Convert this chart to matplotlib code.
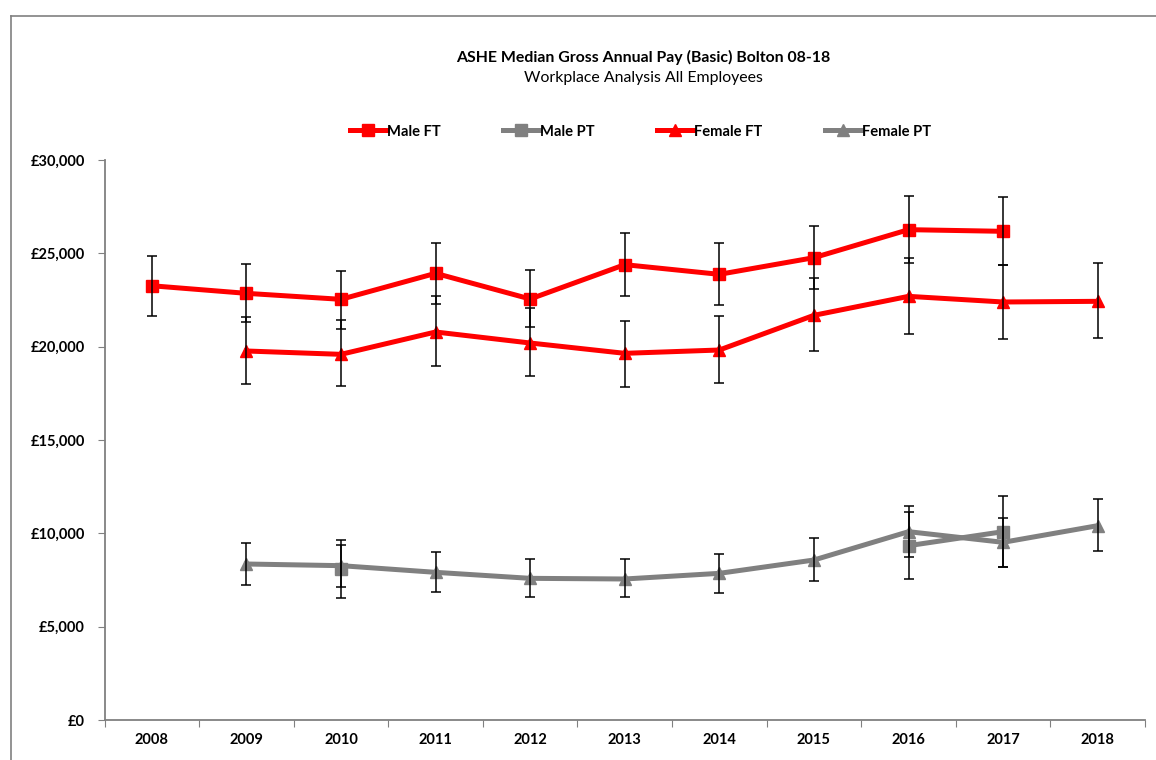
import numpy as np
import matplotlib
matplotlib.use("Agg")
import matplotlib.pyplot as plt
from matplotlib.lines import Line2D
from matplotlib.ticker import FuncFormatter, FixedLocator

plt.rcParams["font.family"] = ["Lato", "DejaVu Sans"]

nan = np.nan
years = ["2008", "2009", "2010", "2011", "2012", "2013", "2014", "2015", "2016", "2017", "2018"]

# median, lower and upper confidence bound for each series
male_ft = [23263, 22857, 22536, 23929, 22554, 24393, 23875, 24768, 26268, 26179, nan]
male_ft_lo = [21643, 21304, 20964, 22268, 21054, 22714, 22214, 23089, 24464, 24375, nan]
male_ft_hi = [24873, 24446, 24071, 25571, 24107, 26089, 25536, 26482, 28071, 27999, nan]

male_pt = [nan, nan, 8089, nan, nan, nan, nan, nan, 9339, 10089, nan]
male_pt_lo = [nan, nan, 6554, nan, nan, nan, nan, nan, 7554, 8196, nan]
male_pt_hi = [nan, nan, 9643, nan, nan, nan, nan, nan, 11125, 12018, nan]

female_ft = [nan, 19768, 19589, 20786, 20196, 19643, 19821, 21679, 22696, 22393, 22429]
female_ft_lo = [nan, 18016, 17875, 18964, 18411, 17857, 18071, 19768, 20661, 20393, 20446]
female_ft_hi = [nan, 21589, 21411, 22696, 22054, 21375, 21643, 23661, 24732, 24375, 24500]

female_pt = [nan, 8357, 8268, 7911, 7589, 7554, 7857, 8571, 10089, 9518, 10411]
female_pt_lo = [nan, 7214, 7143, 6875, 6589, 6589, 6821, 7464, 8750, 8214, 9054]
female_pt_hi = [nan, 9464, 9375, 9018, 8625, 8625, 8911, 9768, 11482, 10804, 11839]

RED = "#ff0000"
GREY = "#808080"

series = [("Male FT", male_ft, male_ft_lo, male_ft_hi, RED, "s", 8.8),
          ("Male PT", male_pt, male_pt_lo, male_pt_hi, GREY, "s", 8.8),
          ("Female FT", female_ft, female_ft_lo, female_ft_hi, RED, "^", 9),
          ("Female PT", female_pt, female_pt_lo, female_pt_hi, GREY, "^", 9)]

W, H = 1156, 760
fig = plt.figure(figsize=(W / 100, H / 100), dpi=100)
ax = fig.add_axes([104.5 / W, 40 / H, (1145 - 104.5) / W, 560 / H])

x = np.arange(len(years))
handles = []
for name, v, lo, hi, col, mk, ms in series:
    v = np.array(v, float)
    lo = np.array(lo, float); hi = np.array(hi, float)
    h, = ax.plot(x, v, color=col, lw=3.6, marker=mk, ms=ms, mec=col, mfc=col,
                 zorder=3, label=name)
    handles.append(h)
    ok = ~np.isnan(v)
    ax.errorbar(x[ok], v[ok], yerr=[v[ok] - lo[ok], hi[ok] - v[ok]], fmt="none",
                ecolor="black", elinewidth=1.1, capsize=3.5, capthick=1.1, zorder=4)

ax.set_xlim(-0.5, len(years) - 0.5)
ax.set_ylim(0, 30000)
ax.yaxis.set_major_locator(FixedLocator(np.arange(0, 30001, 5000)))
ax.yaxis.set_major_formatter(FuncFormatter(lambda v, p: f"£{v:,.0f}"))
ax.xaxis.set_major_locator(FixedLocator(np.arange(-0.5, len(years), 1.0)))
ax.xaxis.set_major_formatter(FuncFormatter(lambda v, p: ""))
ax.set_xticks(x, minor=True)
ax.set_xticklabels(years, minor=True, fontsize=10.5, fontweight="bold")
ax.tick_params(axis="x", which="minor", length=0, pad=9)
ax.tick_params(axis="x", which="major", length=5, direction="out", color=GREY)
ax.tick_params(axis="y", length=5, direction="out", color=GREY, pad=9,
               labelsize=10.5)
for lab in ax.get_yticklabels():
    lab.set_fontweight("bold")
for s in ["top", "right"]:
    ax.spines[s].set_visible(False)
for s in ["left", "bottom"]:
    ax.spines[s].set_color(GREY)
    ax.spines[s].set_linewidth(1.3)
ax.spines["bottom"].set_zorder(5)

# outer chart frame (left and top edges only are inside the picture)
fig.add_artist(Line2D([10.7 / W, 10.7 / W], [0, 1 - 15.7 / H], color=GREY, lw=1.2))
fig.add_artist(Line2D([10.7 / W, 1], [1 - 15.7 / H, 1 - 15.7 / H], color=GREY, lw=1.2))

fig.text(643 / W, 1 - 57 / H, "ASHE Median Gross Annual Pay (Basic) Bolton 08-18",
         ha="center", va="center", fontsize=11.4, fontweight="bold")
fig.text(643 / W, 1 - 78 / H, "Workplace Analysis All Employees",
         ha="center", va="center", fontsize=11.4)

fig.legend(handles=handles, loc="center", bbox_to_anchor=(640.5 / W, 1 - 131.5 / H),
           ncol=4, frameon=False, handlelength=2.5, handletextpad=0.05,
           columnspacing=4.2, prop={"weight": "bold", "size": 10.6}, markerscale=0.9)

fig.savefig("out.png", dpi=100)
